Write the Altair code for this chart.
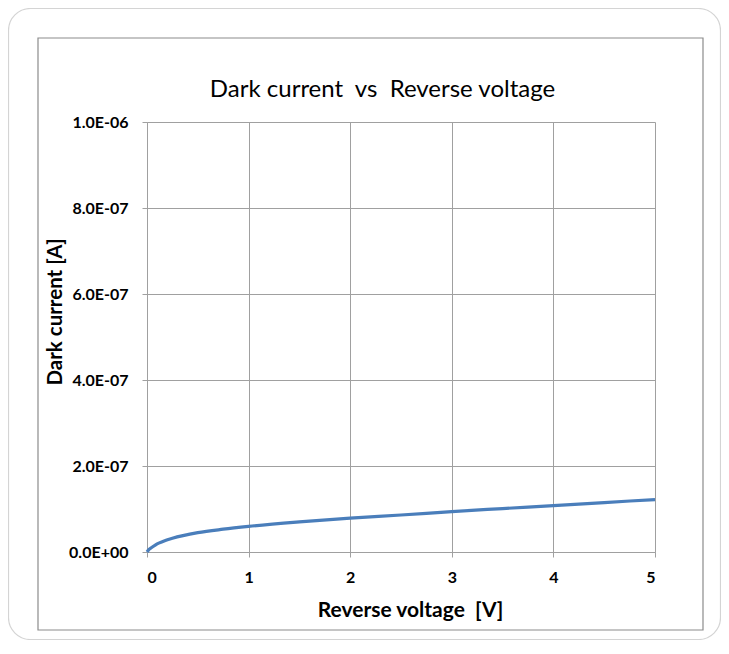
import altair as alt
import pandas as pd

# ---- data ----
voltage = [0, 0.02, 0.05, 0.1, 0.15, 0.25, 0.5, 0.75, 1, 1.5, 2, 2.5, 3, 3.5, 4, 4.5, 5]
current = [0, 0.6e-8, 1.1e-8, 1.9e-8, 2.4e-8, 3.2e-8, 4.5e-8, 5.3e-8, 5.95e-8,
           7.0e-8, 7.9e-8, 8.6e-8, 9.4e-8, 10.1e-8, 10.8e-8, 11.5e-8, 12.2e-8]
x_ticks = [0, 1, 2, 3, 4, 5]
y_ticks = [0, 2e-7, 4e-7, 6e-7, 8e-7, 1e-6]
y_tick_labels = ["0.0E+00", "2.0E-07", "4.0E-07", "6.0E-07", "8.0E-07", "1.0E-06"]
title_text = "Dark current \u00a0vs \u00a0Reverse voltage"
x_title = "Reverse voltage \u00a0[V]"
y_title = "Dark current [A]"

df = pd.DataFrame({"v": voltage, "i": current})

W, H = 508, 430
FONT = "Lato"
GRID = "#A0A0A0"

label_expr = "[" + ",".join(f"'{s}'" for s in y_tick_labels) + "][round(datum.value / 2e-7)]"

one = alt.Data(values=[{"k": 0}])

outer = alt.Chart(one).mark_rect(
    fillOpacity=0, stroke="#D4D4D4", strokeWidth=1.2, cornerRadius=22
).encode(x=alt.value(-138.5), x2=alt.value(573.5), y=alt.value(-113.5), y2=alt.value(517.5))

inner = alt.Chart(one).mark_rect(
    fillOpacity=0, stroke="#8C8C8C", strokeWidth=1.2
).encode(x=alt.value(-109), x2=alt.value(556), y=alt.value(-84), y2=alt.value(508))

line = alt.Chart(df).mark_line(
    color="#4A7EBB", strokeWidth=3.2, interpolate="monotone"
).encode(
    x=alt.X("v:Q", scale=alt.Scale(domain=[0, 5], nice=False),
            axis=alt.Axis(values=x_ticks, title=None, format="d",
                          labelPadding=12, labelBaseline="top")),
    y=alt.Y("i:Q", scale=alt.Scale(domain=[0, 1e-6], nice=False),
            axis=alt.Axis(values=y_ticks, title=None, labelExpr=label_expr,
                          labelPadding=14)),
)

title = alt.Chart(one).mark_text(
    text=title_text, font=FONT, fontSize=24, color="#000000",
    align="center", baseline="alphabetic"
).encode(x=alt.value(235.5), y=alt.value(-25))

xt = alt.Chart(one).mark_text(
    text=x_title, font=FONT, fontSize=21, fontWeight="bold", color="#000000",
    align="center", baseline="alphabetic"
).encode(x=alt.value(263.5), y=alt.value(494.5))

yt = alt.Chart(one).mark_text(
    text=y_title, font=FONT, fontSize=20.5, fontWeight="bold", color="#000000",
    align="center", baseline="middle", angle=270
).encode(x=alt.value(-91), y=alt.value(190))

chart = alt.layer(outer, inner, line, title, xt, yt).properties(
    width=W, height=H,
    padding={"left": 139, "top": 114, "right": 66, "bottom": 88},
    autosize="none",
).configure(background="#FFFFFF").configure_view(strokeWidth=0).configure_axis(
    grid=True, gridColor=GRID, gridWidth=1,
    domainColor=GRID, domainWidth=1,
    tickColor=GRID, tickSize=5, tickWidth=1,
    labelFont=FONT, labelFontSize=16, labelFontWeight="bold", labelColor="#000000",
)

chart.save("out.html", embed_options={"renderer": "svg", "actions": False})
